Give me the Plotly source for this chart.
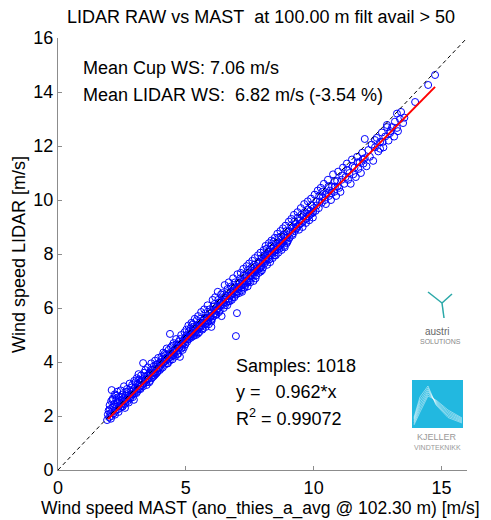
import plotly.graph_objects as go

# ---------------- data ----------------
mast_ws = [
    1.92, 1.95, 1.98, 2.0, 2.02, 2.05, 2.08, 2.1, 2.1, 2.12, 2.15, 2.18, 2.2, 2.22, 2.25, 2.28, 2.3, 2.32, 2.35, 2.38,
    2.4, 2.42, 2.45, 2.48, 2.5, 2.52, 2.55, 2.58, 2.6, 2.62, 2.65, 2.68, 2.7, 2.72, 2.75, 2.78, 2.8, 2.82, 2.85, 2.88,
    2.9, 2.92, 2.95, 2.98, 3.0,
    3.02, 3.05, 3.08, 3.1, 3.12, 3.15, 3.18, 3.2, 3.22, 3.25, 3.28, 3.3, 3.33, 3.35, 3.38, 3.4, 3.42, 3.45, 3.48, 3.5,
    3.52, 3.55, 3.58, 3.6, 3.62, 3.65, 3.68, 3.7, 3.72, 3.75, 3.78, 3.8, 3.82, 3.85, 3.88, 3.9, 3.92, 3.95, 3.98, 4.0,
    4.02, 4.05, 4.08, 4.1, 4.12, 4.15, 4.18, 4.2, 4.22, 4.25, 4.28, 4.3, 4.32, 4.35, 4.38, 4.4, 4.42, 4.45, 4.48, 4.5,
    4.52, 4.55, 4.58, 4.6, 4.62, 4.65, 4.68, 4.7, 4.72, 4.75, 4.77, 4.8, 4.82, 4.85, 4.88, 4.9, 4.92, 4.95, 4.98, 5.0,
    5.02, 5.05, 5.08, 5.1, 5.12, 5.15, 5.18, 5.2, 5.22, 5.25, 5.28, 5.3, 5.32, 5.35, 5.38, 5.4, 5.42, 5.45, 5.48, 5.5,
    5.52, 5.55, 5.58, 5.6, 5.62, 5.65, 5.68, 5.7, 5.72, 5.75, 5.78, 5.8, 5.82, 5.85, 5.88, 5.9, 5.92, 5.95, 5.98, 6.0, 6.0,
    6.02, 6.05, 6.08, 6.1, 6.12, 6.15, 6.18, 6.2, 6.22, 6.25, 6.28, 6.3, 6.32, 6.35, 6.38, 6.4, 6.42, 6.45, 6.48, 6.5,
    6.52, 6.55, 6.58, 6.6, 6.62, 6.65, 6.68, 6.7, 6.72, 6.75, 6.78, 6.8, 6.82, 6.85, 6.88, 6.9, 6.92, 6.96, 6.98, 7.0, 7.0,
    7.02, 7.05, 7.08, 7.1, 7.12, 7.15, 7.18, 7.2, 7.22, 7.25, 7.28, 7.3, 7.32, 7.35, 7.38, 7.4, 7.42, 7.45, 7.48, 7.5,
    7.52, 7.55, 7.58, 7.6, 7.62, 7.65, 7.68, 7.7, 7.72, 7.75, 7.78, 7.8, 7.82, 7.85, 7.88, 7.9, 7.92, 7.95, 7.98, 8.0,
    8.02, 8.05, 8.08, 8.1, 8.12, 8.15, 8.18, 8.2, 8.22, 8.25, 8.28, 8.3, 8.32, 8.35, 8.38, 8.4, 8.42, 8.45, 8.48, 8.5,
    8.52, 8.55, 8.58, 8.6, 8.62, 8.65, 8.68, 8.7, 8.72, 8.75, 8.78, 8.8, 8.82, 8.85, 8.88, 8.9, 8.92, 8.95, 8.98, 9.0,
    9.03, 9.06, 9.1, 9.13, 9.17, 9.2, 9.23, 9.27, 9.3, 9.33, 9.37, 9.4, 9.43, 9.47, 9.5, 9.53, 9.57, 9.6, 9.63, 9.67,
    9.7, 9.73, 9.77, 9.8, 9.83, 9.87, 9.9, 9.93, 9.97, 10.0,
    10.04, 10.08, 10.12, 10.16, 10.2, 10.24, 10.28, 10.32, 10.36, 10.4, 10.44, 10.48, 10.52, 10.56, 10.6, 10.64, 10.68,
    10.72, 10.76, 10.8, 10.84, 10.88, 10.92, 10.96, 11.0,
    11.05, 11.1, 11.15, 11.2, 11.25, 11.3, 11.35, 11.4, 11.45, 11.5, 11.55, 11.6, 11.65, 11.7, 11.75, 11.8, 11.85, 11.9,
    11.95, 12.0,
    12.07, 12.14, 12.2, 12.27, 12.33, 12.4, 12.47, 12.53, 12.6, 12.67, 12.73, 12.8, 12.87, 12.93, 13.0,
    13.07, 13.15, 13.18, 13.26, 13.26, 13.3, 13.38, 13.42, 13.5, 13.55, 13.97, 14.48, 14.75, 12.0, 12.4, 12.7, 12.6,
    12.87, 12.99,
    # second pass over the dense band
    2.03, 2.07, 2.13, 2.17, 2.23, 2.27, 2.33, 2.37, 2.43, 2.47, 2.53, 2.57, 2.63, 2.67, 2.73, 2.77, 2.83, 2.87, 2.93, 2.97,
    3.03, 3.07, 3.13, 3.17, 3.23, 3.27, 3.33, 3.37, 3.43, 3.47, 3.53, 3.57, 3.63, 3.67, 3.73, 3.77, 3.83, 3.87, 3.93, 3.97,
    4.03, 4.07, 4.13, 4.17, 4.23, 4.27, 4.33, 4.37, 4.43, 4.47, 4.53, 4.57, 4.63, 4.67, 4.73, 4.78, 4.83, 4.87, 4.93, 4.97,
    5.03, 5.07, 5.13, 5.17, 5.23, 5.27, 5.33, 5.37, 5.43, 5.47, 5.53, 5.57, 5.63, 5.67, 5.73, 5.77, 5.83, 5.87, 5.93, 5.97,
    6.03, 6.07, 6.13, 6.17, 6.23, 6.27, 6.33, 6.37, 6.43, 6.47, 6.53, 6.57, 6.63, 6.67, 6.73, 6.77, 6.83, 6.87, 6.93, 6.97,
    7.03, 7.07, 7.13, 7.17, 7.23, 7.27, 7.33, 7.37, 7.43, 7.47, 7.53, 7.57, 7.63, 7.67, 7.73, 7.77, 7.83, 7.87, 7.93, 7.97,
    8.03, 8.07, 8.13, 8.17, 8.23, 8.27, 8.33, 8.37, 8.43, 8.47, 8.53, 8.57, 8.63, 8.67, 8.73, 8.77, 8.83, 8.87, 8.93, 8.97,
    9.05, 9.12, 9.18, 9.25, 9.32, 9.38, 9.45, 9.52, 9.58, 9.65, 9.72, 9.78, 9.85, 9.92, 9.98,
    10.1, 10.22, 10.34, 10.46, 10.58, 10.7, 10.82, 10.94, 11.12, 11.32, 11.52, 11.72, 11.92,
]
lidar_ws = [
    1.85, 2.05, 2.2, 1.95, 2.4, 2.1, 2.55, 2.0, 2.96, 2.3, 2.65, 2.1, 2.45, 2.8, 2.2, 2.6, 2.35, 2.9, 2.25, 2.7,
    2.4, 2.55, 2.95, 2.35, 2.6, 2.8, 2.45, 3.1, 2.55, 2.3, 2.75, 2.6, 3.0, 2.55, 2.85, 2.7, 3.2, 2.65, 2.9, 2.75,
    3.15, 2.8, 2.95, 3.3, 2.85,
    3.05, 2.95, 3.4, 2.9, 3.2, 3.55, 3.0, 3.25, 3.1, 3.5, 3.15, 3.35, 3.96, 3.2, 3.45, 3.3, 3.7, 3.25, 3.5, 3.35,
    3.8, 3.4, 3.6, 3.3, 3.55, 3.95, 3.5, 3.7, 3.45, 3.85, 3.6, 4.05, 3.55, 3.75, 3.9, 3.65, 4.15, 3.8, 3.7, 4.0,
    3.75, 4.2, 3.95, 3.8, 4.35, 4.0, 3.9, 4.25, 4.05, 4.5, 4.1, 3.95, 4.3, 4.15, 5.04, 4.2, 4.55, 4.25, 4.1, 4.4,
    4.7, 4.35, 4.2, 4.5, 4.85, 4.4, 4.6, 4.3, 4.75, 4.55, 4.19, 4.65, 5.0, 4.6, 4.45, 4.8, 4.7, 5.1, 4.65, 4.85,
    5.2, 4.75, 4.95, 5.35, 4.85, 5.0, 5.25, 4.9, 5.45, 5.05, 4.95, 5.3, 5.15, 5.6, 5.1, 5.0, 5.35, 5.2, 5.7, 5.25,
    5.1, 5.45, 5.3, 5.85, 5.35, 5.2, 5.55, 5.45, 5.95, 5.4, 5.3, 5.65, 5.55, 6.1, 5.5, 5.4, 5.8, 5.65, 5.55, 5.3, 5.5,
    5.85, 6.3, 5.7, 5.95, 5.8, 6.4, 5.9, 5.75, 6.05, 6.6, 6.0, 5.85, 6.2, 6.1, 6.5, 5.7, 6.25, 6.15, 6.0, 6.4,
    6.85, 6.3, 6.2, 6.55, 6.1, 6.45, 6.95, 6.35, 6.25, 6.6, 6.5, 6.3, 6.75, 7.1, 6.55, 6.4, 6.8, 4.96, 6.6, 5.81, 6.75,
    7.25, 6.7, 6.55, 6.9, 6.8, 7.3, 6.75, 6.6, 7.0, 7.45, 6.9, 6.75, 7.1, 7.0, 7.55, 6.95, 6.8, 7.2, 7.65, 7.1,
    6.95, 7.3, 7.2, 7.75, 7.15, 7.0, 7.4, 7.85, 7.35, 7.2, 7.55, 7.4, 7.95, 7.3, 7.65, 7.5, 8.05, 7.55, 7.4, 7.75,
    7.5, 8.15, 7.65, 7.8, 8.3, 7.75, 7.6, 8.0, 7.85, 8.4, 7.95, 7.7, 8.1, 8.5, 8.0, 7.85, 8.2, 8.1, 8.6, 8.15,
    7.95, 8.3, 8.75, 8.25, 8.05, 8.4, 8.3, 8.85, 8.35, 8.15, 8.5, 8.95, 8.45, 8.3, 8.6, 9.05, 8.55, 8.4, 8.7, 8.5,
    9.2, 8.6, 8.8, 9.3, 8.75, 8.95, 9.45, 8.85, 9.1, 8.95, 9.55, 9.05, 8.9, 9.25, 9.7, 9.15, 9.0, 9.4, 9.85, 9.3,
    9.15, 9.5, 9.95, 9.4, 9.25, 9.6, 10.05, 9.5, 9.35, 9.7,
    10.2, 9.6, 9.8, 10.35, 9.7, 9.95, 10.45, 9.9, 10.1, 10.6, 10.0, 9.85, 10.25, 10.75, 10.15, 10.35, 10.0,
    10.5, 10.95, 10.3, 10.5, 10.15, 10.7, 11.05, 10.45,
    10.3, 10.75, 11.2, 10.6, 10.85, 11.35, 10.75, 11.0, 10.6, 11.5, 10.95, 11.2, 10.85, 11.6, 11.15, 11.4, 11.0, 11.75,
    11.35, 11.55,
    11.25, 11.85, 11.6, 12.05, 11.45, 11.95, 12.3, 11.8, 12.15, 12.5, 11.95, 12.35, 12.7, 12.2, 12.55,
    12.7, 12.35, 12.9, 13.2, 12.67, 12.55, 13.0, 13.26, 12.85, 13.05, 13.63, 14.26, 14.63, 12.26, 12.22, 12.15, 11.9,
    12.78, 12.48,
    # second pass over the dense band
    2.25, 1.9, 2.6, 2.35, 2.05, 2.75, 2.5, 2.15, 2.3, 2.7, 2.35, 2.65, 2.45, 2.9, 2.75, 2.5, 2.8, 3.05, 2.7, 2.6,
    3.25, 2.85, 3.0, 3.35, 3.0, 3.3, 3.1, 3.6, 3.35, 3.15, 3.5, 3.25, 3.7, 3.4, 3.6, 3.5, 3.9, 3.6, 3.75, 3.95,
    3.9, 4.1, 4.0, 4.3, 4.15, 3.95, 4.45, 4.05, 4.3, 4.6, 4.25, 4.45, 4.65, 4.3, 4.5, 4.85, 4.5, 4.7, 4.55, 4.9,
    5.0, 4.85, 5.15, 4.95, 5.1, 5.4, 5.0, 5.25, 5.55, 5.05, 5.35, 5.6, 5.45, 5.25, 5.6, 5.8, 5.45, 5.65, 5.95, 5.7,
    5.6, 6.05, 6.15, 5.75, 5.95, 6.3, 5.9, 6.2, 6.55, 6.2, 6.1, 6.45, 6.7, 6.25, 6.45, 6.8, 6.4, 6.65, 6.95, 6.5,
    6.6, 6.95, 7.1, 6.65, 6.85, 7.2, 6.85, 7.25, 7.4, 7.0, 7.2, 7.5, 7.3, 7.6, 7.1, 7.45, 7.7, 7.45, 7.35, 7.85,
    7.7, 7.95, 7.85, 8.2, 8.1, 7.8, 8.3, 8.05, 8.45, 7.95, 8.4, 8.15, 8.6, 8.2, 8.65, 8.4, 8.7, 8.25, 8.85, 8.45,
    8.85, 9.05, 8.7, 9.2, 9.0, 9.35, 9.1, 9.45, 9.2, 9.55, 9.3, 9.65, 9.45, 9.8, 9.55,
    9.95, 10.15, 10.3, 10.2, 10.5, 10.25, 10.7, 10.5, 10.9, 11.1, 11.25, 11.4, 11.5,
]
fit_slope = 0.962
fit_x_range = [1.96, 14.75]
axis_range = [0, 16]
x_ticks = [0, 5, 10, 15]
y_ticks = [0, 2, 4, 6, 8, 10, 12, 14, 16]

title_text = "LIDAR RAW vs MAST\u00a0\u00a0at 100.00 m filt avail > 50"
x_label = "Wind speed MAST (ano_thies_a_avg @ 102.30 m) [m/s]"
y_label = "Wind speed LIDAR [m/s]"
stats_top = ["Mean Cup WS: 7.06 m/s", "Mean LIDAR WS:\u00a0\u00a06.82 m/s (-3.54 %)"]
stats_bottom = ["Samples: 1018", "y =\u00a0\u00a0\u00a00.962*x", "R<sup>2</sup> = 0.99072"]

# ---------------- layout geometry ----------------
OFF = 8                      # page body margin
W, H = 491 - OFF, 520 - OFF  # figure size
L, R, T, B = 58, 467, 38, 470  # plot area in screen pixels
FONT = "Liberation Sans, Arial, Helvetica, sans-serif"


def px(x):
    return (x - L) / (R - L)


def py(y):
    return (B - y) / (B - T)


fig = go.Figure()

fig.add_trace(go.Scatter(
    x=mast_ws, y=lidar_ws, mode="markers",
    marker=dict(symbol="circle-open", size=7, color="#0000ff", line=dict(width=1, color="#0000ff")),
    hoverinfo="skip", showlegend=False,
))
fig.add_trace(go.Scatter(
    x=axis_range, y=axis_range, mode="lines",
    line=dict(color="black", width=1, dash="4px,3px"), showlegend=False, hoverinfo="skip",
))
fig.add_trace(go.Scatter(
    x=fit_x_range, y=[fit_slope * v for v in fit_x_range], mode="lines",
    line=dict(color="#ff0000", width=2), showlegend=False, hoverinfo="skip",
))

ann = []
ann.append(dict(text=title_text, xref="paper", yref="paper", x=px(261), y=py(17),
                xanchor="center", yanchor="middle", showarrow=False, font=dict(size=18, color="black")))
ann.append(dict(text=x_label, xref="paper", yref="paper", x=px(260), y=py(509),
                xanchor="center", yanchor="middle", showarrow=False, font=dict(size=17.5, color="black")))
ann.append(dict(text=y_label, xref="paper", yref="paper", x=px(19), y=py(255), textangle=-90,
                xanchor="center", yanchor="middle", showarrow=False, font=dict(size=18, color="black")))
for i, t in enumerate(stats_top):
    ann.append(dict(text=t, xref="paper", yref="paper", x=px(81), y=py(68 + 27 * i),
                    xanchor="left", yanchor="middle", showarrow=False, font=dict(size=18, color="black")))
for i, t in enumerate(stats_bottom):
    ann.append(dict(text=t, xref="paper", yref="paper", x=px(234), y=py(366 + 25.5 * i),
                    xanchor="left", yanchor="middle", showarrow=False, font=dict(size=18, color="black")))

# logos (decoration)
ann.append(dict(text="austri", xref="paper", yref="paper", x=px(437), y=py(331),
                xanchor="center", yanchor="middle", showarrow=False, font=dict(size=10, color="#666666")))
ann.append(dict(text="SOLUTIONS", xref="paper", yref="paper", x=px(440), y=py(341),
                xanchor="center", yanchor="middle", showarrow=False, font=dict(size=7, color="#888888")))
ann.append(dict(text="KJELLER", xref="paper", yref="paper", x=px(437), y=py(437),
                xanchor="center", yanchor="middle", showarrow=False, font=dict(size=9, color="#999999")))
ann.append(dict(text="VINDTEKNIKK", xref="paper", yref="paper", x=px(437), y=py(447),
                xanchor="center", yanchor="middle", showarrow=False, font=dict(size=7, color="#999999")))

shapes = []
teal = "#2aa8a8"
cx, cy = 442, 303
for (x0, y0, x1, y1) in [(428, 292, cx, cy), (452, 294, cx, cy), (cx, cy, 444, 318)]:
    shapes.append(dict(type="line", xref="paper", yref="paper", x0=px(x0), y0=py(y0), x1=px(x1), y1=py(y1),
                       line=dict(color=teal, width=1.5)))
shapes.append(dict(type="rect", xref="paper", yref="paper", x0=px(412), y0=py(380), x1=px(463), y1=py(428),
                   fillcolor="#22b8e0", line=dict(width=0)))
for k in range(6):
    pts = [(414, 425 - k * 1.5), (420, 412 - k * 3), (428, 396 - k * 2), (436, 400 + k), (448, 410 + k * 1.5), (462, 418 + k)]
    path = "M " + " L ".join(f"{px(a):.4f},{py(b):.4f}" for a, b in pts)
    shapes.append(dict(type="path", xref="paper", yref="paper", path=path,
                       line=dict(color="rgba(255,255,255,0.8)", width=0.6)))

axis_common = dict(
    range=axis_range, showgrid=False, zeroline=False, showline=True, linecolor="#8c8c8c", linewidth=1,
    ticks="inside", ticklen=4, tickcolor="#8c8c8c", tickfont=dict(size=18, color="black", family=FONT),
    mirror=False, automargin=False,
)
fig.update_layout(
    width=W, height=H, autosize=False,
    margin=dict(l=L - OFF, r=W - (R - OFF), t=T - OFF, b=H - (B - OFF)),
    paper_bgcolor="white", plot_bgcolor="white",
    font=dict(family=FONT, size=18, color="black"),
    xaxis=dict(tickvals=x_ticks, ticktext=[str(v) for v in x_ticks], ticklabelstandoff=1, **axis_common),
    yaxis=dict(tickvals=y_ticks, ticktext=[str(v) for v in y_ticks], **axis_common),
    annotations=ann, shapes=shapes, showlegend=False,
)

fig.write_html("out.html")
